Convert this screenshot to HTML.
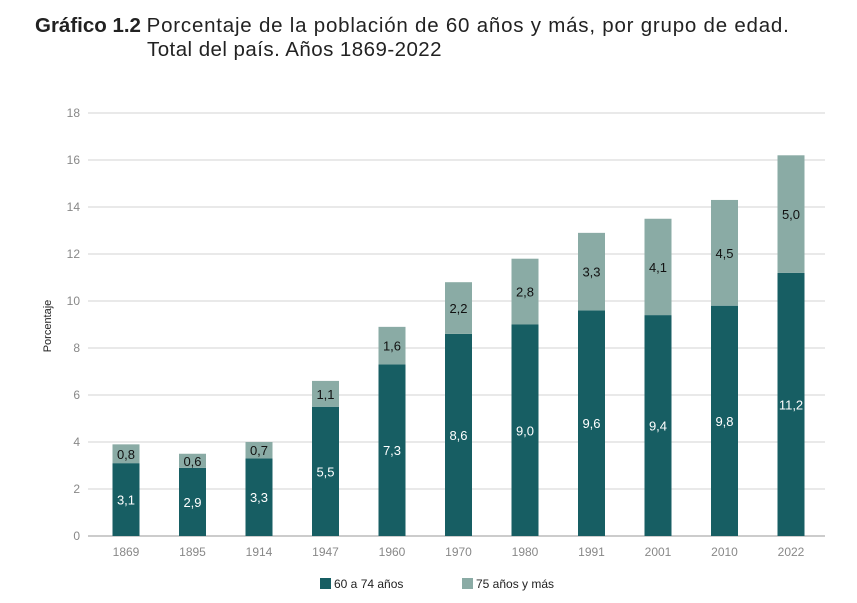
<!DOCTYPE html>
<html><head><meta charset="utf-8"><style>
body{margin:0;background:#fff;width:857px;height:603px;overflow:hidden;font-family:"Liberation Sans",sans-serif}
.title{position:absolute;left:35px;top:14px;font-size:20.5px;color:#222;line-height:24px}
.title b{font-weight:bold}
.title .r{letter-spacing:0.78px}
svg{position:absolute;left:0;top:0}
.n{font-family:"Liberation Sans Narrow","Liberation Sans",sans-serif}
</style></head><body>
<div class="title"><b>Gráfico 1.2</b> <span class="r">Porcentaje de la población de 60 años y más, por grupo de edad.</span><br><span class="r" style="padding-left:112px;letter-spacing:0.45px">Total del país. Años 1869-2022</span></div>
<svg id="c" width="857" height="603"></svg>
<script>
const categories=["1869","1895","1914","1947","1960","1970","1980","1991","2001","2010","2022"];
const young=[3.1,2.9,3.3,5.5,7.3,8.6,9.0,9.6,9.4,9.8,11.2];
const old=[0.8,0.6,0.7,1.1,1.6,2.2,2.8,3.3,4.1,4.5,5.0];
const ticks=[0,2,4,6,8,10,12,14,16,18];
const NS="http://www.w3.org/2000/svg",svg=document.getElementById('c');
const y=v=>536-v*(423/18);
const x=i=>126+i*66.5;
function el(t,a,txt){const e=document.createElementNS(NS,t);for(const k in a)e.setAttribute(k,a[k]);if(txt!=null)e.textContent=txt;svg.appendChild(e);return e;}
ticks.forEach(t=>{
 const l=el('line',{x1:88,x2:825,y1:y(t),y2:y(t),stroke:t===0?'#ccc':'#e2e2e2','stroke-width':t===0?2:1.5});
 
 
 const tx=el('text',{x:80,y:y(t)+4,'text-anchor':'end','font-size':12,fill:'#888',class:'n'},String(t));
 
 
});
const fmt=v=>v.toFixed(1).replace('.',',');
categories.forEach((c,i)=>{
 const cx=x(i),w=27;
 const b1=el('rect',{x:cx-w/2,y:y(young[i]),width:w,height:y(0)-y(young[i]),fill:'#175e63'});
 
 
 const b2=el('rect',{x:cx-w/2,y:y(young[i]+old[i]),width:w,height:y(young[i])-y(young[i]+old[i]),fill:'#8aaba5'});
 
 
 const t1=el('text',{x:cx,y:y(young[i]/2)+5,'text-anchor':'middle','font-size':13,fill:'#fff',class:'n'},fmt(young[i]));
 
 
 const t2=el('text',{x:cx,y:y(young[i]+old[i]/2)+5,'text-anchor':'middle','font-size':13,fill:'#111',class:'n'},fmt(old[i]));
 
 
 const xl=el('text',{x:cx,y:556,'text-anchor':'middle','font-size':12,fill:'#888',class:'n'},c);
 
 
});
const yt=el('text',{x:0,y:0,transform:'translate(51,326) rotate(-90)','text-anchor':'middle','font-size':11,fill:'#222',class:'n'},'Porcentaje');


const lg=[["#175e63","60 a 74 años",320],["#8aaba5","75 años y más",462]];
lg.forEach((d,k)=>{
 const r=el('rect',{x:d[2],y:578,width:11,height:11,fill:d[0]});
 
 
 const t=el('text',{x:d[2]+14,y:588,'font-size':12,fill:'#222',class:'n'},d[1]);
 
 
});
</script>
</body></html>
